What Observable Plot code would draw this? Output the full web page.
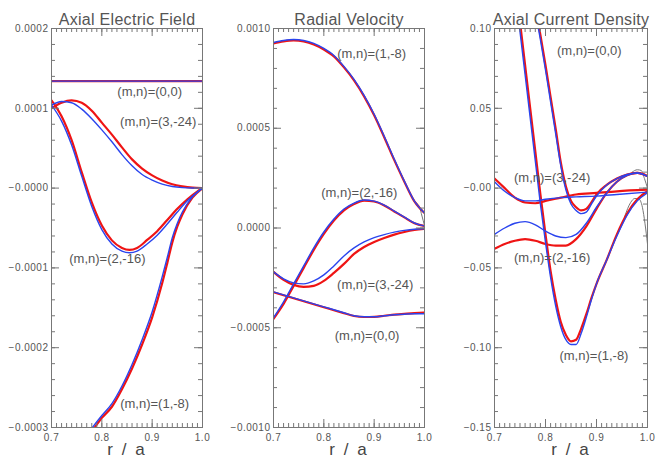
<!DOCTYPE html>
<html><head><meta charset="utf-8">
<script src="https://cdn.jsdelivr.net/npm/d3@7"></script>
<script src="https://cdn.jsdelivr.net/npm/@observablehq/plot@0.6"></script>
<style>
body{margin:0;background:#fff;}
#chart{position:relative;width:666px;height:463px;overflow:hidden;background:#fff;}
#chart svg{position:absolute;top:0;}
#chart svg text{letter-spacing:0.5px;}
#chart g[aria-description="mode"] text{letter-spacing:0px;}
#chart g[aria-description="title"] text{letter-spacing:0.3px;}
#chart g[aria-description="xlabel"] text{letter-spacing:2px;}
</style></head><body><div id="chart"></div>
<script>
// ---------- shared ----------
const xTicks = [0.7, 0.8, 0.9, 1.0];
const xTickLabels = ["0.7", "0.8", "0.9", "1.0"];
const xLabel = "r / a";
const modeNames = ["(m,n)=(0,0)", "(m,n)=(3,-24)", "(m,n)=(2,-16)", "(m,n)=(1,-8)"];

// ---------- Panel 1: Axial Electric Field ----------
const efTitle = "Axial Electric Field";
const efYTicks = [0.0002, 0.0001, 0, -0.0001, -0.0002, -0.0003];
const efYTickLabels = ["0.0002", "0.0001", "\u22120.0000", "\u22120.0001", "\u22120.0002", "\u22120.0003"];
const ef00R = [0.70, 1.00];
const ef00Red = [1.34e-4, 1.34e-4];
const ef00Blue = [1.34e-4, 1.34e-4];
const ef324R = [0.70,0.72,0.74,0.76,0.78,0.80,0.82,0.84,0.86,0.88,0.90,0.92,0.94,0.96,0.98,1.00];
const ef324Red = [1.00e-4,1.07e-4,1.10e-4,1.07e-4,0.97e-4,0.82e-4,0.67e-4,0.51e-4,0.36e-4,0.245e-4,0.16e-4,0.095e-4,0.048e-4,0.022e-4,0.006e-4,0];
const ef324Blue = [1.04e-4,1.085e-4,1.07e-4,0.99e-4,0.87e-4,0.73e-4,0.58e-4,0.42e-4,0.28e-4,0.17e-4,0.10e-4,0.05e-4,0.02e-4,0.006e-4,0.001e-4,0];
const ef216R = [0.70,0.72,0.74,0.76,0.78,0.80,0.82,0.84,0.855,0.87,0.89,0.91,0.93,0.95,0.97,0.99,1.00];
const ef216Red = [1.10e-4,0.90e-4,0.60e-4,0.20e-4,-0.18e-4,-0.47e-4,-0.655e-4,-0.75e-4,-0.775e-4,-0.75e-4,-0.65e-4,-0.54e-4,-0.40e-4,-0.26e-4,-0.14e-4,-0.04e-4,0];
const ef216Blue = [1.04e-4,0.84e-4,0.54e-4,0.15e-4,-0.23e-4,-0.52e-4,-0.70e-4,-0.79e-4,-0.81e-4,-0.79e-4,-0.70e-4,-0.59e-4,-0.45e-4,-0.30e-4,-0.16e-4,-0.05e-4,0];
const ef18R = [0.76,0.78,0.80,0.82,0.84,0.86,0.88,0.90,0.92,0.93,0.94,0.95,0.96,0.98,1.00];
const ef18Red = [-3.22e-4,-3.05e-4,-2.88e-4,-2.74e-4,-2.52e-4,-2.26e-4,-1.96e-4,-1.62e-4,-1.19e-4,-0.94e-4,-0.68e-4,-0.48e-4,-0.33e-4,-0.12e-4,0];
const ef18Blue = [-3.18e-4,-3.01e-4,-2.85e-4,-2.70e-4,-2.48e-4,-2.21e-4,-1.90e-4,-1.55e-4,-1.11e-4,-0.87e-4,-0.62e-4,-0.44e-4,-0.30e-4,-0.11e-4,0];
const efLabelR = [0.895, 0.912, 0.811, 0.905];
const efLabelV = [1.21e-4, 0.825e-4, -0.89e-4, -2.70e-4];

// ---------- Panel 2: Radial Velocity ----------
const rvTitle = "Radial Velocity";
const rvYTicks = [0.0010, 0.0005, 0, -0.0005, -0.0010];
const rvYTickLabels = ["0.0010", "0.0005", "0.0000", "\u22120.0005", "\u22120.0010"];
const rvR = [0.70,0.72,0.74,0.76,0.78,0.80,0.82,0.84,0.86,0.88,0.90,0.92,0.94,0.96,0.98,1.00];
const rv18Red = [0.925e-3,0.935e-3,0.94e-3,0.935e-3,0.92e-3,0.895e-3,0.86e-3,0.805e-3,0.74e-3,0.66e-3,0.565e-3,0.455e-3,0.34e-3,0.232e-3,0.133e-3,0.075e-3];
const rv18Blue = [0.93e-3,0.94e-3,0.945e-3,0.94e-3,0.925e-3,0.90e-3,0.865e-3,0.81e-3,0.745e-3,0.665e-3,0.57e-3,0.46e-3,0.345e-3,0.235e-3,0.135e-3,0.075e-3];
const rv216Red = [-0.455e-3,-0.38e-3,-0.29e-3,-0.20e-3,-0.11e-3,-0.03e-3,0.037e-3,0.088e-3,0.12e-3,0.137e-3,0.133e-3,0.113e-3,0.083e-3,0.053e-3,0.024e-3,0.01e-3];
const rv216Blue = [-0.45e-3,-0.37e-3,-0.28e-3,-0.19e-3,-0.10e-3,-0.02e-3,0.045e-3,0.095e-3,0.125e-3,0.14e-3,0.135e-3,0.115e-3,0.085e-3,0.055e-3,0.025e-3,0.01e-3];
const rv324Red = [-0.22e-3,-0.26e-3,-0.285e-3,-0.295e-3,-0.29e-3,-0.265e-3,-0.225e-3,-0.18e-3,-0.13e-3,-0.095e-3,-0.07e-3,-0.05e-3,-0.033e-3,-0.02e-3,-0.01e-3,-0.004e-3];
const rv324Blue = [-0.22e-3,-0.255e-3,-0.275e-3,-0.28e-3,-0.265e-3,-0.235e-3,-0.19e-3,-0.14e-3,-0.10e-3,-0.07e-3,-0.048e-3,-0.033e-3,-0.021e-3,-0.012e-3,-0.006e-3,-0.004e-3];
const rv00Red = [-0.322e-3,-0.337e-3,-0.352e-3,-0.367e-3,-0.382e-3,-0.397e-3,-0.412e-3,-0.427e-3,-0.441e-3,-0.446e-3,-0.445e-3,-0.44e-3,-0.434e-3,-0.43e-3,-0.427e-3,-0.424e-3];
const rv00Blue = [-0.32e-3,-0.335e-3,-0.35e-3,-0.365e-3,-0.38e-3,-0.395e-3,-0.41e-3,-0.425e-3,-0.44e-3,-0.445e-3,-0.445e-3,-0.44e-3,-0.435e-3,-0.432e-3,-0.43e-3,-0.43e-3];
const rvGrayR = [0.984, 0.99, 0.995, 1.00];
const rvGray = [0.125e-3, 0.105e-3, 0.06e-3, 0.012e-3];
const rvLabelR = [0.886, 0.902, 0.8705, 0.895];
const rvLabelV = [-0.538e-3, -0.287e-3, 0.174e-3, 0.871e-3];

// ---------- Panel 3: Axial Current Density ----------
const jzTitle = "Axial Current Density";
const jzYTicks = [0.10, 0.05, 0, -0.05, -0.10, -0.15];
const jzYTickLabels = ["0.10", "0.05", "\u22120.00", "\u22120.05", "\u22120.10", "\u22120.15"];
const jz18R = [0.73,0.74,0.75,0.76,0.77,0.78,0.79,0.80,0.81,0.82,0.83,0.84,0.85,0.86,0.87,0.88,0.89,0.90,0.92,0.94,0.96,0.98,1.00];
const jz18Red = [0.155,0.130,0.104,0.077,0.050,0.023,-0.004,-0.029,-0.052,-0.070,-0.084,-0.092,-0.096,-0.095,-0.088,-0.079,-0.069,-0.060,-0.045,-0.029,-0.016,-0.007,-0.002];
const jz18Blue = [0.150,0.124,0.098,0.071,0.044,0.017,-0.010,-0.034,-0.056,-0.074,-0.087,-0.095,-0.098,-0.098,-0.091,-0.081,-0.070,-0.060,-0.045,-0.030,-0.017,-0.008,-0.003];
const jz00R = [0.77,0.78,0.79,0.80,0.81,0.82,0.83,0.84,0.85,0.86,0.87,0.88,0.89,0.90,0.92,0.94,0.96,0.98,1.00];
const jz00Red = [0.133,0.114,0.096,0.077,0.057,0.037,0.016,0.001,-0.008,-0.012,-0.014,-0.013,-0.009,-0.004,0.002,0.006,0.0085,0.0095,0.0075];
const jz00Blue = [0.130,0.111,0.093,0.074,0.054,0.034,0.014,-0.001,-0.010,-0.014,-0.016,-0.015,-0.010,-0.005,0.002,0.006,0.0085,0.0095,0.0075];
const jz324R = [0.70,0.72,0.74,0.76,0.78,0.80,0.83,0.86,0.90,0.94,1.00];
const jz324Red = [0.006,0.000,-0.006,-0.009,-0.0095,-0.008,-0.006,-0.004,-0.003,-0.002,-0.001];
const jz324Blue = [0.004,-0.002,-0.006,-0.008,-0.008,-0.007,-0.006,-0.0055,-0.005,-0.004,-0.0025];
const jz216R = [0.70,0.72,0.74,0.76,0.78,0.80,0.82,0.84,0.86,0.88,0.90,0.92,0.94,0.96,0.98,1.00];
const jz216Red = [-0.038,-0.035,-0.033,-0.032,-0.033,-0.035,-0.036,-0.036,-0.032,-0.024,-0.013,-0.003,0.004,0.008,0.0095,0.0075];
const jz216Blue = [-0.029,-0.025,-0.022,-0.021,-0.023,-0.027,-0.030,-0.031,-0.029,-0.022,-0.012,-0.003,0.004,0.008,0.0095,0.0075];
const jzGray1R = [0.97, 0.98, 0.988, 0.994, 1.00];
const jzGray1 = [0.010, 0.0115, 0.011, 0.006, 0.0];
const jzGray2R = [0.955, 0.967, 0.975, 0.983, 0.99, 0.995, 1.00];
const jzGray2 = [-0.018, -0.009, -0.0065, -0.0068, -0.012, -0.022, -0.035];
const jzLabelR = [0.886, 0.813, 0.813, 0.895];
const jzLabelV = [0.0861, 0.0064, -0.0439, -0.105];

// ---------- styling ----------
const RED = "#ef1414", BLUE = "#2a44ee", GRAY = "#777777";
const AXIS = "#777777", TEXT = "#555555";

function rows(r, v) { return r.map((x, i) => ({r: x, v: v[i]})); }

function makePanel(cfg) {
  const W = 222, H = 463, mt = 28, mb = 36;
  const fh = H - mt - mb, fw = W - cfg.ml - cfg.mr;
  const [lo, hi] = cfg.yDomain;
  const nMinor = Math.round((hi - lo) / cfg.yMinorStep);
  const yMinor = d3.range(nMinor + 1).map(i => lo + i * cfg.yMinorStep);
  const xMinor = d3.range(31).map(i => 0.7 + i * 0.01);
  const xMap = new Map(xTicks.map((d, i) => [d, xTickLabels[i]]));
  const yMap = new Map(cfg.yTicks.map((d, i) => [d, cfg.yTickLabels[i]]));
  const lineMarks = cfg.lines.map(s => Plot.line(rows(s.r, s.v), {
    x: "r", y: "v", stroke: s.color, strokeWidth: s.w, curve: "monotone-x", clip: true
  }));
  const labels = cfg.labelR.map((x, i) => ({r: x, v: cfg.labelV[i], t: modeNames[i]}));
  return Plot.plot({
    width: W, height: H,
    marginLeft: cfg.ml, marginRight: cfg.mr, marginTop: mt, marginBottom: mb,
    x: {domain: [0.7, 1.0]},
    y: {domain: cfg.yDomain},
    style: {fontFamily: "'Liberation Sans', Arial, sans-serif", fontSize: "10px", color: TEXT, background: "transparent", overflow: "visible"},
    marks: [
      ...lineMarks,
      Plot.ruleX(xMinor, {stroke: AXIS, insetTop: fh - 4}),
      Plot.ruleX(xMinor, {stroke: AXIS, insetBottom: fh - 4}),
      Plot.ruleX(xTicks, {stroke: AXIS, insetTop: fh - 8}),
      Plot.ruleX(xTicks, {stroke: AXIS, insetBottom: fh - 8}),
      Plot.ruleY(yMinor, {stroke: AXIS, insetRight: fw - 4}),
      Plot.ruleY(yMinor, {stroke: AXIS, insetLeft: fw - 4}),
      Plot.ruleY(cfg.yTicks, {stroke: AXIS, insetRight: fw - 8}),
      Plot.ruleY(cfg.yTicks, {stroke: AXIS, insetLeft: fw - 8}),
      Plot.frame({stroke: AXIS}),
      Plot.axisX(xTicks, {tickSize: 0, tickPadding: 6, tickFormat: d => xMap.get(d), label: null}),
      Plot.axisY(cfg.yTicks, {tickSize: 0, tickPadding: 3, tickFormat: d => yMap.get(d), label: null}),
      Plot.text(labels, {x: "r", y: "v", text: "t", fontSize: 13, fill: TEXT, ariaDescription: "mode"}),
      Plot.text([cfg.title], {frameAnchor: "top", dy: -15, fontSize: 16, fill: TEXT, ariaDescription: "title"}),
      Plot.text([xLabel], {frameAnchor: "bottom", dy: 27, fontSize: 17, fill: "#444", ariaDescription: "xlabel"})
    ]
  });
}

const panels = [
  {left: 0, ml: 51, mr: 20, title: efTitle, yDomain: [-0.0003, 0.0002], yMinorStep: 0.00002,
   yTicks: efYTicks, yTickLabels: efYTickLabels, labelR: efLabelR, labelV: efLabelV,
   lines: [
     {r: ef00R, v: ef00Red, color: RED, w: 2.2}, {r: ef324R, v: ef324Red, color: RED, w: 2.2},
     {r: ef216R, v: ef216Red, color: RED, w: 2.2}, {r: ef18R, v: ef18Red, color: RED, w: 2.2},
     {r: ef00R, v: ef00Blue, color: BLUE, w: 1.4}, {r: ef324R, v: ef324Blue, color: BLUE, w: 1.4},
     {r: ef216R, v: ef216Blue, color: BLUE, w: 1.4}, {r: ef18R, v: ef18Blue, color: BLUE, w: 1.4}
   ]},
  {left: 222, ml: 51, mr: 20, title: rvTitle, yDomain: [-0.0010, 0.0010], yMinorStep: 0.0001,
   yTicks: rvYTicks, yTickLabels: rvYTickLabels, labelR: rvLabelR, labelV: rvLabelV,
   lines: [
     {r: rvGrayR, v: rvGray, color: GRAY, w: 1},
     {r: rvR, v: rv00Red, color: RED, w: 2.2}, {r: rvR, v: rv324Red, color: RED, w: 2.2},
     {r: rvR, v: rv216Red, color: RED, w: 2.2}, {r: rvR, v: rv18Red, color: RED, w: 2.2},
     {r: rvR, v: rv00Blue, color: BLUE, w: 1.4}, {r: rvR, v: rv324Blue, color: BLUE, w: 1.4},
     {r: rvR, v: rv216Blue, color: BLUE, w: 1.4}, {r: rvR, v: rv18Blue, color: BLUE, w: 1.4}
   ]},
  {left: 444, ml: 50, mr: 19, title: jzTitle, yDomain: [-0.15, 0.10], yMinorStep: 0.01,
   yTicks: jzYTicks, yTickLabels: jzYTickLabels, labelR: jzLabelR, labelV: jzLabelV,
   lines: [
     {r: jzGray1R, v: jzGray1, color: GRAY, w: 1}, {r: jzGray2R, v: jzGray2, color: GRAY, w: 1},
     {r: jz00R, v: jz00Red, color: RED, w: 2.2}, {r: jz324R, v: jz324Red, color: RED, w: 2.2},
     {r: jz216R, v: jz216Red, color: RED, w: 2.2}, {r: jz18R, v: jz18Red, color: RED, w: 2.2},
     {r: jz00R, v: jz00Blue, color: BLUE, w: 1.4}, {r: jz324R, v: jz324Blue, color: BLUE, w: 1.4},
     {r: jz216R, v: jz216Blue, color: BLUE, w: 1.4}, {r: jz18R, v: jz18Blue, color: BLUE, w: 1.4}
   ]}
];

const chart = document.getElementById("chart");
for (const p of panels) {
  const svg = makePanel(p);
  svg.style.left = p.left + "px";
  chart.appendChild(svg);
}
</script></body></html>
